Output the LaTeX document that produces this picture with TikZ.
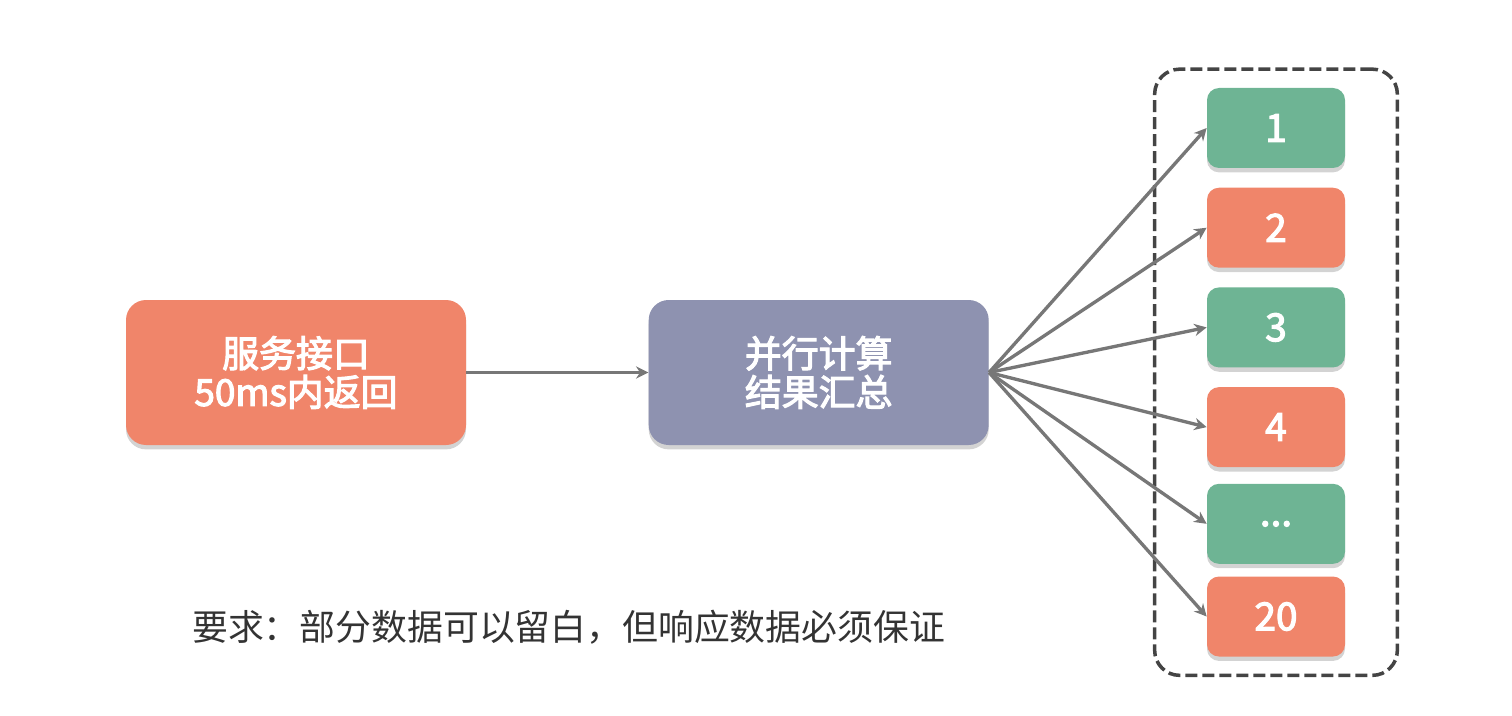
\documentclass[tikz,border=0pt]{standalone}
\usepackage{fontspec}
\newfontfamily\cjk{Noto Sans CJK SC}
\newfontfamily\cjkmed[FakeBold=3]{Noto Sans CJK SC}
\usepackage{xcolor}
\usepackage{tikz}
\usetikzlibrary{arrows.meta,positioning,fit,shadows}

\definecolor{boxorange}{HTML}{F0856A}
\definecolor{boxgreen}{HTML}{6EB494}
\definecolor{boxpurple}{HTML}{8E92B0}
\definecolor{arrgray}{HTML}{777777}
\definecolor{framegray}{HTML}{444444}
\definecolor{notegray}{HTML}{333333}

\begin{document}
\begin{tikzpicture}[
    block/.style={rectangle, rounded corners=0.4cm, 
        minimum width=6.8cm, minimum height=2.9cm, 
        text=white, align=center, 
        font=\cjkmed\fontsize{21pt}{22pt}\selectfont,
        drop shadow={opacity=0.35, shadow xshift=0pt, 
            shadow yshift=-2.5pt}},
    task/.style={block, rounded corners=0.24cm, 
        minimum width=2.76cm, minimum height=1.6cm, 
        font=\cjkmed\fontsize{22pt}{24pt}\selectfont},
    arr/.style={-{Stealth[length=7pt, width=7pt]}, 
        line width=1.9pt, draw=arrgray},
    note/.style={font=\cjk\fontsize{20.4pt}{24pt}\selectfont, 
        text=notegray},
]
\useasboundingbox (0,0) rectangle (30.24,-14.32);

% ── Interface ──
\node[block, fill=boxorange] (api) at (5.92,-7.45) 
    {服务接口\\50ms内返回};

% ── Aggregator ──
\node[block, fill=boxpurple, right=3.64cm of api] (merge) 
    {并行计算\\结果汇总};

% ── Parallel tasks ──
\node[task, fill=boxgreen] (t1) at (25.52,-2.56) {1};
\node[task, fill=boxorange, below=0.38cm of t1] (t2) {2};
\node[task, fill=boxgreen, below=0.38cm of t2] (t3) {3};
\node[task, fill=boxorange, below=0.38cm of t3] (t4) {4};
\node[task, fill=boxgreen, below=0.32cm of t4] (tdots) {...};
\node[task, fill=boxorange, below=0.24cm of tdots] (t20) {20};

\node[draw=framegray, line width=2pt, 
    dash pattern=on 0.24cm off 0.1cm, rounded corners=0.5cm, 
    inner xsep=1.04cm, inner ysep=0.37cm, fit=(t1) (t20)] 
    (pool) {};

% ── Arrows ──
\draw[arr] (api) -- (merge);
\foreach \t in {t1,t2,t3,t4,tdots,t20}
    \draw[arr] (merge.east) -- (\t.west);

% ── Note ──
\node[note, anchor=west] (req) at (3.72,-12.54) 
    {要求：部分数据可以留白，但响应数据必须保证};

\end{tikzpicture}
\end{document}
